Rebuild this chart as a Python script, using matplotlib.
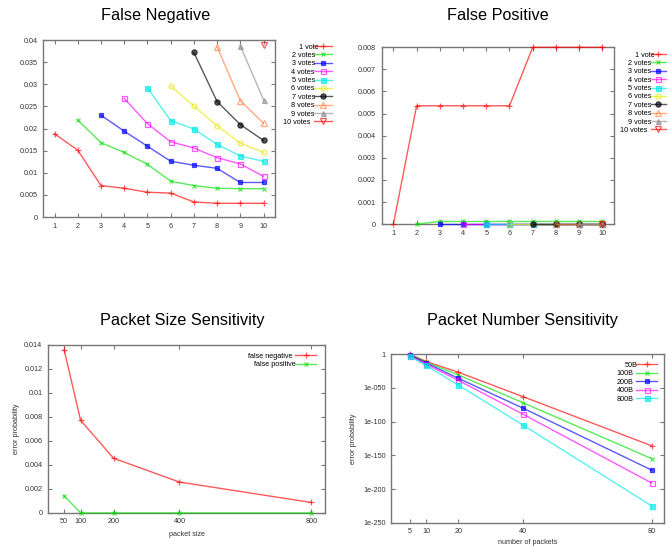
import matplotlib
matplotlib.use("Agg")
import matplotlib.pyplot as plt
from matplotlib.ticker import NullLocator

plt.rcParams['font.family'] = ['Liberation Sans Narrow', 'Liberation Sans', 'DejaVu Sans']

# === Data ===
votes = [1, 2, 3, 4, 5, 6, 7, 8, 9, 10]
vote_labels = ['1 vote'] + [f'{v} votes' for v in votes[1:]]

# false negative, series k starts at x = k
fn_values = [
    [0.0188, 0.0151, 0.0071, 0.0065, 0.0056, 0.0054, 0.0034, 0.0031, 0.0031, 0.0031],
    [0.0219, 0.0168, 0.0146, 0.0119, 0.0081, 0.0071, 0.0065, 0.0064, 0.0064],
    [0.0230, 0.0194, 0.0160, 0.0126, 0.0117, 0.0110, 0.0078, 0.0078],
    [0.0268, 0.0211, 0.0170, 0.0156, 0.0134, 0.0120, 0.0092],
    [0.0292, 0.0218, 0.0199, 0.0164, 0.0138, 0.0126],
    [0.0296, 0.0251, 0.0206, 0.0167, 0.0146],
    [0.0372, 0.0261, 0.0209, 0.0173],
    [0.0385, 0.0263, 0.0212],
    [0.0387, 0.0265],
    [0.0389],
]

# false positive
fp_values = [
    [0, 0.00535, 0.00535, 0.00535, 0.00535, 0.00535, 0.00799, 0.00799, 0.00799, 0.00799],
    [0, 0.00012, 0.00012, 0.00012, 0.00012, 0.00012, 0.00012, 0.00012, 0.00012],
    [0, 0, 0, 0, 0, 0, 0, 0],
    [0, 0, 0, 0, 0, 0, 0],
    [0, 0, 0, 0, 0, 0],
    [0, 0, 0, 0, 0],
    [0, 0, 0, 0],
    [0, 0, 0],
    [0, 0],
    [0],
]

packet_sizes = [50, 100, 200, 400, 800]
size_false_negative = [0.01358, 0.00771, 0.00455, 0.00257, 0.00087]
size_false_positive = [0.00143, 0, 0, 0, 0]

packet_counts = [5, 10, 20, 40, 80]
count_labels = ['50B', '100B', '200B', '400B', '800B']
count_values = [
    [0.5, 1e-11, 1e-27, 1e-63, 1e-136],
    [0.1, 1e-12, 1e-31, 1e-72, 1e-155],
    [0.03, 1e-13, 1e-36, 1e-80, 1e-172],
    [3e-3, 1e-15, 1e-39, 1e-89, 1e-191],
    [3e-4, 1e-17, 1e-46, 1e-105, 1e-225],
]

# gnuplot-like styles
colors = ['#ff0000', '#00e000', '#0000ff', '#ff00ff', '#00e8e8',
          '#e8e800', '#000000', '#ff7f40', '#909090', '#ff0000']
markers = [('+', 'full'), ('x', 'full'), ('s', 'full'), ('s', 'none'), ('s', 'full'),
           ('o', 'none'), ('o', 'full'), ('^', 'none'), ('^', 'full'), ('v', 'none')]
msizes = [4.5, 3.5, 2.8, 3.6, 3.6, 3.6, 3.8, 3.8, 3.6, 3.8]
spine_col = '#777777'
tick_fs = 5.2
title_fs = 11.7


def style_axes(ax):
    for s in ax.spines.values():
        s.set_color(spine_col)
        s.set_linewidth(1.0)
    ax.tick_params(direction='in', top=True, right=True, length=3,
                   width=0.8, color=spine_col, labelsize=tick_fs,
                   labelcolor='#333333', pad=4)


def right_align_legend(fig, leg):
    fig.canvas.draw()
    r = fig.canvas.get_renderer()
    texts = leg.get_texts()
    ws = [t.get_window_extent(r).width for t in texts]
    mw = max(ws)
    for t, w in zip(texts, ws):
        t.set_position((mw - w, 0))


def add_legend(ax, x_px, y_px, spacing, hlen=2.6):
    return ax.legend(loc='upper right', bbox_to_anchor=(x_px / 671, 1 - y_px / 548),
                     bbox_transform=fig.transFigure, frameon=False,
                     markerfirst=False, fontsize=tick_fs, handlelength=hlen,
                     labelspacing=spacing, handletextpad=0.4, borderpad=0)


def draw_line(ax, x, y, i, label):
    m, fs = markers[i]
    ax.plot(x, y, color=colors[i], lw=1.0, alpha=0.65, marker=m,
            fillstyle=fs, markersize=msizes[i], markeredgewidth=0.9,
            label=label, clip_on=False, zorder=3)


fig = plt.figure(figsize=(6.71, 5.48), dpi=100)

# === False Negative ===
ax1 = fig.add_axes([0.064, 0.604, 0.346, 0.323])
for i, ys in enumerate(fn_values):
    draw_line(ax1, votes[i:], ys, i, vote_labels[i])
ax1.set_xlim(0.5, 10.5)
ax1.set_ylim(0, 0.04)
ax1.set_xticks(votes)
ax1.set_yticks([0, 0.005, 0.01, 0.015, 0.02, 0.025, 0.03, 0.035, 0.04])
ax1.set_yticklabels(['0', '0.005', '0.01', '0.015', '0.02', '0.025', '0.03', '0.035', '0.04'])
style_axes(ax1)
leg1 = add_legend(ax1, 336, 40, 0.18)
fig.text(0.232, 0.972, 'False Negative', ha='center', va='center',
         fontsize=title_fs, family='Liberation Sans')

# === False Positive ===
ax2 = fig.add_axes([0.569, 0.591, 0.346, 0.323])
for i, ys in enumerate(fp_values):
    draw_line(ax2, votes[i:], ys, i, vote_labels[i])
ax2.set_xlim(0.5, 10.5)
ax2.set_ylim(0, 0.008)
ax2.set_xticks(votes)
ax2.set_yticks([0, 0.001, 0.002, 0.003, 0.004, 0.005, 0.006, 0.007, 0.008])
ax2.set_yticklabels(['0', '0.001', '0.002', '0.003', '0.004', '0.005', '0.006', '0.007', '0.008'])
style_axes(ax2)
leg2 = add_legend(ax2, 670, 48, 0.18, hlen=2.2)
fig.text(0.742, 0.972, 'False Positive', ha='center', va='center',
         fontsize=title_fs, family='Liberation Sans')

# === Packet Size Sensitivity ===
ax3 = fig.add_axes([0.0715, 0.064, 0.413, 0.307])
draw_line(ax3, packet_sizes, size_false_negative, 0, 'false negative')
draw_line(ax3, packet_sizes, size_false_positive, 1, 'false positive')
ax3.set_xlim(1, 842)
ax3.set_ylim(0, 0.014)
ax3.set_xticks(packet_sizes)
ax3.set_yticks([0, 0.002, 0.004, 0.006, 0.008, 0.01, 0.012, 0.014])
ax3.set_yticklabels(['0', '0.002', '0.004', '0.006', '0.008', '0.01', '0.012', '0.014'])
ax3.set_xlabel('packet size', fontsize=tick_fs, color='#333333', labelpad=4)
ax3.set_ylabel('error probability', fontsize=tick_fs, color='#333333', labelpad=3)
style_axes(ax3)
leg3 = add_legend(ax3, 320, 349, 0.2, hlen=2.9)
fig.text(0.271, 0.416, 'Packet Size Sensitivity', ha='center', va='center',
         fontsize=title_fs, family='Liberation Sans')

# === Packet Number Sensitivity ===
ax4 = fig.add_axes([0.583, 0.046, 0.407, 0.308])
for i, ys in enumerate(count_values):
    draw_line(ax4, packet_counts, ys, i, count_labels[i])
ax4.set_yscale('log')
ax4.set_xlim(-0.8, 83.9)
ax4.set_ylim(1e-250, 1)
ax4.set_xticks(packet_counts)
ax4.set_yticks([1, 1e-50, 1e-100, 1e-150, 1e-200, 1e-250])
ax4.set_yticklabels(['1', '1e-050', '1e-100', '1e-150', '1e-200', '1e-250'])
ax4.yaxis.set_minor_locator(NullLocator())
ax4.set_xlabel('number of packets', fontsize=tick_fs, color='#333333', labelpad=2.5)
ax4.set_ylabel('error probability', fontsize=tick_fs, color='#333333', labelpad=4)
style_axes(ax4)
leg4 = add_legend(ax4, 661, 358, 0.2, hlen=2.9)
fig.text(0.778, 0.416, 'Packet Number Sensitivity', ha='center', va='center',
         fontsize=title_fs, family='Liberation Sans')

for leg in (leg1, leg2, leg3, leg4):
    right_align_legend(fig, leg)

fig.savefig('out.png', dpi=100)
